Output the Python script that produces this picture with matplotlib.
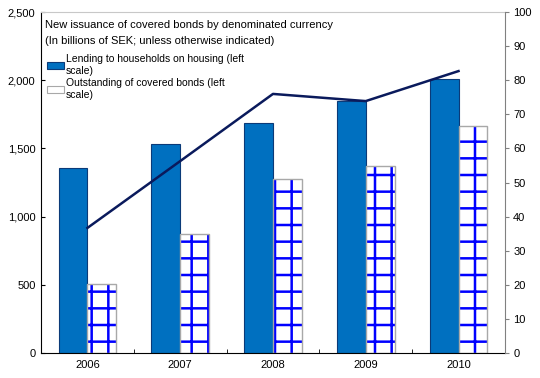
import matplotlib
matplotlib.use("Agg")
import matplotlib.pyplot as plt
import matplotlib.ticker as mticker
from matplotlib.patches import Patch
import numpy as np

plt.rcParams['font.family'] = ['Liberation Sans', 'DejaVu Sans']
plt.rcParams['hatch.linewidth'] = 1.8

years = ["2006", "2007", "2008", "2009", "2010"]
lending = [1358, 1532, 1684, 1848, 2009]
outstanding = [503, 875, 1276, 1369, 1667]
issuance_share = [36.7, 56.3, 76.0, 73.9, 82.7]

title_lines = ["New issuance of covered bonds by denominated currency",
               "(In billions of SEK; unless otherwise indicated)"]
labels = ["Lending to households on housing (left\nscale)",
          "Outstanding of covered bonds (left\nscale)"]

x = np.arange(len(years))
w = 0.31

fig = plt.figure(figsize=(5.4, 3.78), dpi=100)
ax = fig.add_axes([0.076, 0.066, 0.859, 0.902])

ax.bar(x - w / 2, lending, width=w, color='#0070C0', edgecolor='#0B3A78',
       linewidth=0.8, zorder=2)
# hatch in blue, then a gray outline on top
ax.bar(x + w / 2, outstanding, width=w, color='white', edgecolor='#0000FF',
       hatch='+', linewidth=0, zorder=2)
ax.bar(x + w / 2, outstanding, width=w, fill=False, edgecolor='#A8A8A8',
       linewidth=1.0, zorder=2)

ax.set_xlim(-0.5, 4.5)
ax.set_ylim(0, 2500)
ax.set_yticks(range(0, 2501, 500))
ax.yaxis.set_major_formatter(mticker.StrMethodFormatter('{x:,.0f}'))
ax.set_xticks(x)
ax.set_xticklabels(years)
ax.set_xticks(x[:-1] + 0.5, minor=True)
ax.tick_params(axis='x', which='major', length=0, labelsize=8, pad=5)
ax.tick_params(axis='x', which='minor', direction='in', length=3)
ax.tick_params(axis='y', direction='in', length=3, labelsize=8, pad=4)
ax.spines['top'].set_color('#C8C8C8')
ax.spines['right'].set_visible(False)
ax.spines['left'].set_color('black')

ax2 = ax.twinx()
ax2.plot(x, issuance_share, color='#0A1A5C', linewidth=1.8, zorder=3)
ax2.set_ylim(0, 100)
ax2.set_yticks(range(0, 101, 10))
ax2.tick_params(axis='y', direction='out', length=3, labelsize=8, pad=3, color='#808080')
ax2.spines['right'].set_color('#808080')
for s in ['top', 'left', 'bottom']:
    ax2.spines[s].set_visible(False)

fig.text(0.083, 0.934, title_lines[0], fontsize=8, va='center')
fig.text(0.083, 0.892, title_lines[1], fontsize=8, va='center')

handles = [Patch(facecolor='#0070C0', edgecolor='#0B3A78', linewidth=0.8),
           Patch(facecolor='white', edgecolor='#A8A8A8', linewidth=0.8)]
ax.legend(handles, labels, loc='upper left', bbox_to_anchor=(0.0, 0.895), frameon=False,
          fontsize=7.5, handlelength=1.6, handleheight=0.6, handletextpad=0.2,
          borderaxespad=0.2, labelspacing=0.25)

fig.savefig("out.png", dpi=100)
